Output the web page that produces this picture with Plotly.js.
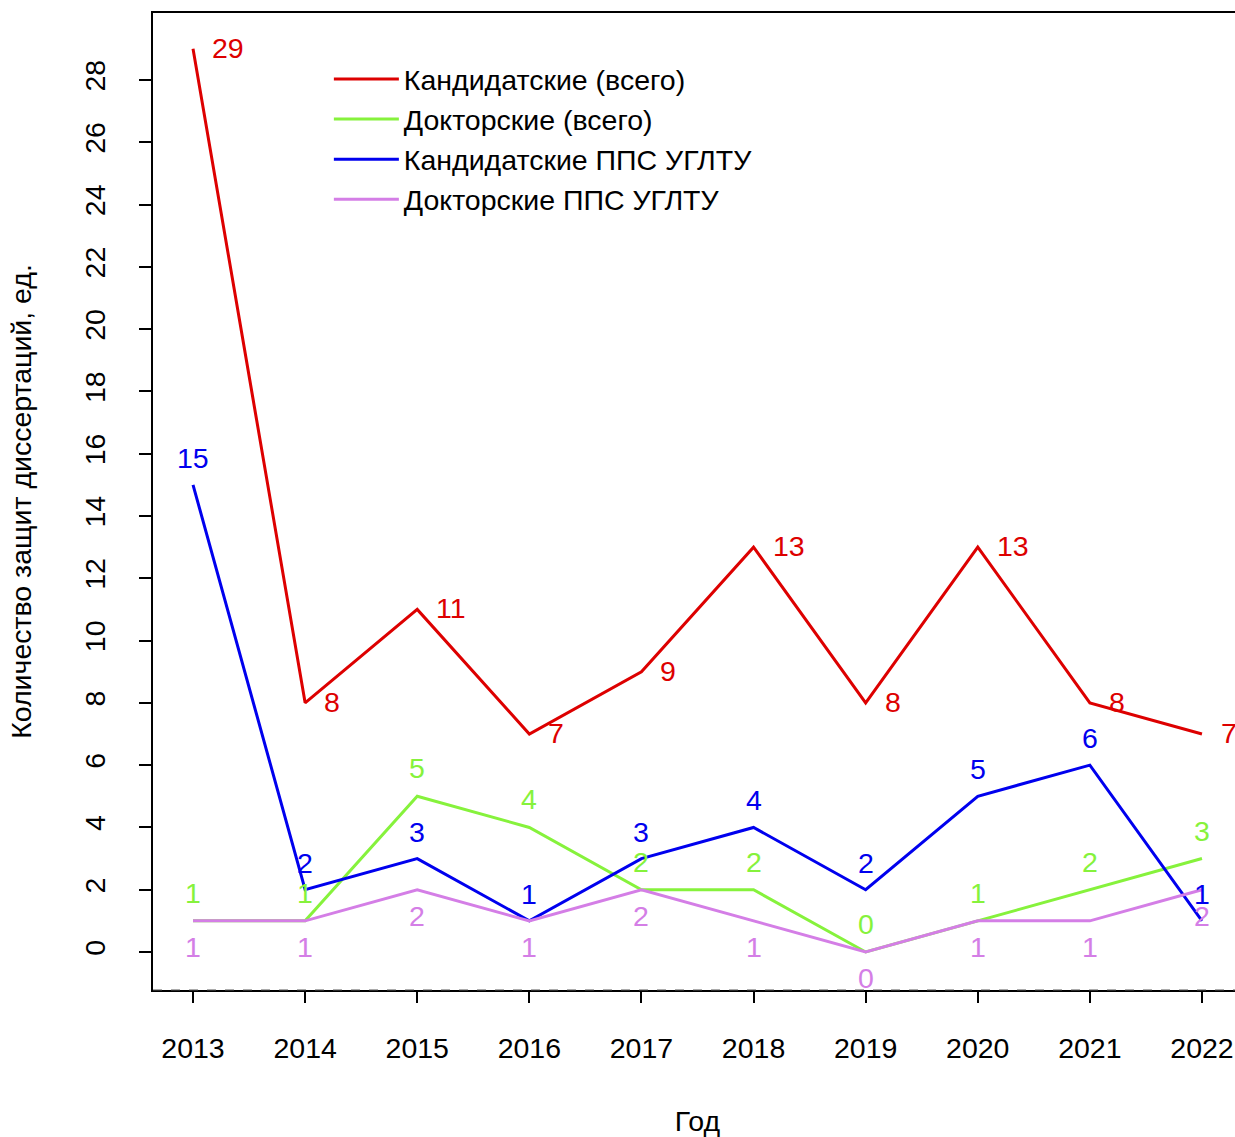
<!DOCTYPE html>
<html>
<head>
<meta charset="utf-8">
<script src="https://cdn.plot.ly/plotly-3.0.1.min.js"></script>
<style>
html,body{margin:0;padding:0;overflow:hidden;background:#fff;}
#chart{width:1245px;height:1137px;}
</style>
</head>
<body>
<div id="chart"></div>
<script>
const years = [2013, 2014, 2015, 2016, 2017, 2018, 2019, 2020, 2021, 2022];
const kandAll = [29, 8, 11, 7, 9, 13, 8, 13, 8, 7];
const doktAll = [1, 1, 5, 4, 2, 2, 0, 1, 2, 3];
const kandPPS = [15, 2, 3, 1, 3, 4, 2, 5, 6, 1];
const doktPPS = [1, 1, 2, 1, 2, 1, 0, 1, 1, 2];
const seriesNames = ["Кандидатские (всего)", "Докторские (всего)", "Кандидатские ППС УГЛТУ", "Докторские ППС УГЛТУ"];
const yTicks = [0, 2, 4, 6, 8, 10, 12, 14, 16, 18, 20, 22, 24, 26, 28];
const xTitle = "Год";
const yTitle = "Количество защит диссертаций, ед.";

const colors = ["#dd0000", "#86f23c", "#0000ee", "#d47ee6"];
// label placement: [xanchor, xshift, yshift]
const place = [
  ["left", 17, 1],
  ["center", 0, 28],
  ["center", 0, 27],
  ["center", 0, -26]
];
const allSeries = [kandAll, doktAll, kandPPS, doktPPS];
const FONT = "Liberation Sans, Arial, Helvetica, sans-serif";
const FS = 28.5;

const traces = allSeries.map((vals, i) => ({
  x: years, y: vals, type: "scatter", mode: "lines",
  name: seriesNames[i],
  line: {color: colors[i], width: 3},
  hoverinfo: "skip"
}));

const annotations = [];
allSeries.forEach((vals, i) => {
  vals.forEach((v, j) => {
    annotations.push({
      x: years[j], y: v, xref: "x", yref: "y",
      text: String(v), showarrow: false,
      xanchor: place[i][0], yanchor: "middle",
      xshift: place[i][1], yshift: place[i][2],
      font: {family: FONT, size: FS, color: colors[i]}
    });
  });
});

const layout = {
  width: 1245, height: 1137,
  margin: {l: 153, r: 3, t: 13, b: 147},
  paper_bgcolor: "#fff", plot_bgcolor: "#fff",
  font: {family: FONT, size: FS, color: "#000"},
  showlegend: true,
  legend: {
    x: 0.1615, y: 0.958, xanchor: "left", yanchor: "top",
    bgcolor: "rgba(0,0,0,0)", font: {family: FONT, size: FS, color: "#000"},
    tracegroupgap: 0, itemwidth: 65
  },
  xaxis: {
    range: [2012.643, 2022.357],
    tickvals: years, ticktext: years.map(String),
    ticks: "outside", ticklen: 11, tickwidth: 2, tickcolor: "#000",
    ticklabelstandoff: 21,
    showgrid: false, zeroline: false,
    showline: true, linecolor: "#000", linewidth: 2, mirror: true,
    tickfont: {family: FONT, size: FS, color: "#000"},
    title: {text: xTitle, font: {family: FONT, size: FS, color: "#000"}, standoff: 52}
  },
  yaxis: {
    range: [-1.22, 30.151],
    tickvals: yTicks, ticktext: yTicks.map(String),
    tickangle: -90,
    ticks: "outside", ticklen: 12, tickwidth: 2, tickcolor: "#000",
    ticklabelstandoff: 23,
    showgrid: false, zeroline: false,
    showline: true, linecolor: "#000", linewidth: 2, mirror: true,
    tickfont: {family: FONT, size: FS, color: "#000"},
    title: {text: yTitle, font: {family: FONT, size: FS, color: "#000"}, standoff: 39}
  },
  shapes: [{
    type: "line", xref: "paper", yref: "paper", x0: 0, x1: 1, y0: 0, y1: 0,
    line: {color: "#555", width: 1, dash: "dash"}
  }],
  annotations: annotations
};

Plotly.newPlot("chart", traces, layout, {displayModeBar: false, staticPlot: true});
</script>
</body>
</html>
